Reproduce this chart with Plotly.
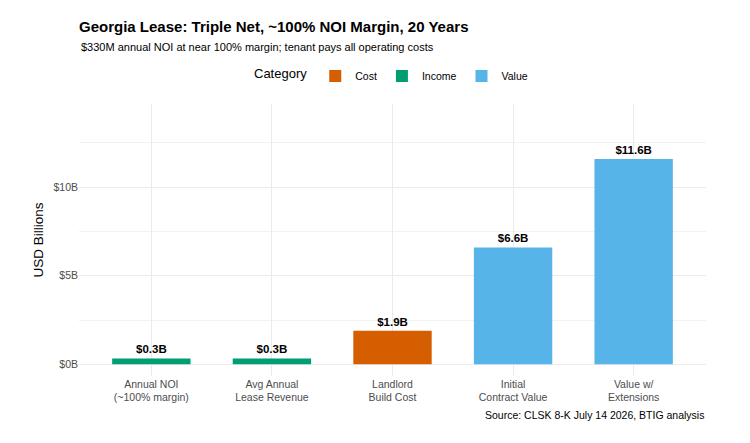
import plotly.graph_objects as go

# chart data
categories = ["Annual NOI<br>(~100% margin)", "Avg Annual<br>Lease Revenue", "Landlord<br>Build Cost",
              "Initial<br>Contract Value", "Value w/<br>Extensions"]
values = [0.33, 0.33, 1.9, 6.6, 11.6]
groups = ["Income", "Income", "Cost", "Value", "Value"]
y_ticks = [0, 5, 10]
y_tick_labels = ["$0B", "$5B", "$10B"]

colors = {"Cost": "#D55E00", "Income": "#009E73", "Value": "#56B4E9"}
font = "Liberation Sans, Arial, Helvetica, sans-serif"

fig = go.Figure()

# one trace per category so the legend shows Cost / Income / Value
for grp in ["Cost", "Income", "Value"]:
    xs = [c for c, g in zip(categories, groups) if g == grp]
    ys = [v for v, g in zip(values, groups) if g == grp]
    fig.add_trace(go.Bar(
        x=xs, y=ys, name=grp, width=0.65,
        marker=dict(color=colors[grp], line=dict(width=0)),
        text=[f"${v:.1f}B" for v in ys], textposition="outside",
        textfont=dict(family=font, size=11.5, color="black", weight="bold"),
        cliponaxis=False, hoverinfo="x+y",
    ))

fig.update_layout(
    width=750, height=443,
    barmode="overlay",
    plot_bgcolor="white", paper_bgcolor="white",
    font=dict(family=font, color="black"),
    margin=dict(l=79, r=44, t=104, b=67, autoexpand=False),
    title=dict(text="<b>Georgia Lease: Triple Net, ~100% NOI Margin, 20 Years</b>",
               x=79 / 750, xanchor="left", xref="container",
               y=1 - 21 / 443, yanchor="top", yref="container",
               font=dict(size=15, family=font, color="black")),
    legend=dict(orientation="h", x=0.5, xanchor="center", y=(376 - 76) / 272, yanchor="middle",
                title=dict(text="Category", side="left", font=dict(size=13)),
                font=dict(size=10.5), itemwidth=30, traceorder="normal"),
    xaxis=dict(range=[-0.6, 4.6], categoryorder="array", categoryarray=categories,
               showgrid=True, gridcolor="#EBEBEB", gridwidth=1, automargin=False,
               tickfont=dict(size=10.5, color="#4D4D4D"), ticks="", zeroline=False,
               showline=False, fixedrange=True),
    yaxis=dict(range=[-0.66, 14.7], tickvals=y_ticks, ticktext=y_tick_labels,
               showgrid=True, gridcolor="#EBEBEB", gridwidth=1.1, automargin=False,
               minor=dict(tickvals=[2.5, 7.5, 12.5], showgrid=True, gridcolor="#F2F2F2", gridwidth=0.6),
               zeroline=False, showline=False, ticks="",
               tickfont=dict(size=10.5, color="#4D4D4D"),
               title=dict(text="USD Billions", font=dict(size=13.5), standoff=6)),
    annotations=[
        dict(text="$330M annual NOI at near 100% margin; tenant pays all operating costs",
             xref="paper", yref="paper", x=0, y=(376 - 47) / 272,
             xanchor="left", yanchor="middle", showarrow=False,
             font=dict(size=11, color="black")),
        dict(text="Source: CLSK 8-K July 14 2026, BTIG analysis",
             xref="paper", yref="paper", x=1, y=(376 - 415) / 272,
             xanchor="right", yanchor="middle", showarrow=False,
             font=dict(size=10.5, color="black")),
    ],
)

# drop the browser's default body margin so the figure sits at the page corner
fig.write_html("out.html", config={"displayModeBar": False},
               post_script="document.body.style.margin = '0';")
